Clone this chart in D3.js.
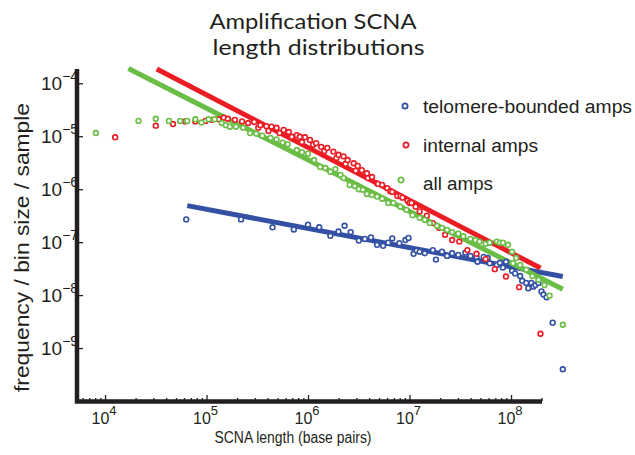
<!DOCTYPE html>
<html><head><meta charset="utf-8">
<script src="https://cdn.jsdelivr.net/npm/d3@7"></script>
<style>body{margin:0;background:#fff}svg{display:block}</style>
</head><body>
<svg id="c" width="635" height="455"></svg>
<script>
// ---- data (log10 of SCNA length, log10 of frequency / bin size / sample) ----
const seriesNames = ["telomere-bounded amps", "internal amps", "all amps"];
const titleLines = ["Amplification SCNA", "length distributions"];
const xTickValues = [1e4, 1e5, 1e6, 1e7, 1e8];
const xTickExps = ["4", "5", "6", "7", "8"];
const yTickValues = [1e-4, 1e-5, 1e-6, 1e-7, 1e-8, 1e-9];
const yTickExps = ["\u22124", "\u22125", "\u22126", "\u22127", "\u22128", "\u22129"];

const bluePts = [[4.80,-6.57],[5.34,-6.57],[5.65,-6.72],[5.86,-6.76],[6.00,-6.67],[6.11,-6.72],[6.22,-6.88],
 [6.30,-6.80],[6.36,-6.69],[6.42,-6.81],[6.50,-6.97],[6.56,-6.94],[6.62,-6.91],[6.68,-7.05],[6.74,-7.07],
 [6.79,-7.01],[6.83,-6.93],[6.90,-7.02],[6.96,-6.96],[6.99,-6.92],[7.04,-7.22],[7.07,-7.16],[7.10,-7.18],
 [7.15,-7.21],[7.23,-7.15],[7.26,-7.33],[7.32,-7.18],[7.37,-7.26],[7.42,-7.21],[7.48,-7.24],[7.55,-7.20],
 [7.60,-7.26],[7.66,-7.28],[7.67,-7.37],[7.73,-7.28],[7.77,-7.30],[7.79,-7.40],[7.86,-7.43],[7.89,-7.39],
 [7.92,-7.48],[7.95,-7.37],[8.01,-7.54],[8.04,-7.59],[8.09,-7.64],[8.11,-7.73],[8.15,-7.77],[8.17,-7.87],
 [8.20,-7.77],[8.22,-7.84],[8.24,-7.81],[8.27,-7.77],[8.30,-7.93],[8.32,-7.99],[8.35,-8.04],[8.41,-8.52],[8.51,-9.40]];

const redPts = [[4.10,-5.02],[4.50,-4.80],[4.67,-4.77],[4.79,-4.72],[4.89,-4.72],[4.99,-4.71],[5.05,-4.69],
 [5.12,-4.68],[5.17,-4.65],[5.21,-4.67],[5.28,-4.69],[5.35,-4.72],[5.41,-4.75],[5.47,-4.73],[5.51,-4.84],
 [5.53,-4.79],[5.59,-4.81],[5.61,-4.90],[5.64,-4.82],[5.69,-4.84],[5.72,-4.94],[5.76,-4.88],[5.81,-4.92],
 [5.84,-5.01],[5.89,-4.98],[5.92,-5.01],[5.94,-5.11],[5.97,-5.02],[6.02,-5.07],[6.05,-5.16],[6.08,-5.13],
 [6.13,-5.20],[6.16,-5.28],[6.19,-5.22],[6.25,-5.29],[6.28,-5.41],[6.30,-5.35],[6.35,-5.38],[6.37,-5.52],
 [6.39,-5.45],[6.45,-5.51],[6.47,-5.65],[6.49,-5.56],[6.53,-5.64],[6.58,-5.70],[6.59,-5.79],[6.63,-5.77],
 [6.68,-5.89],[6.69,-5.90],[6.73,-5.92],[6.78,-5.98],[6.81,-6.04],[6.83,-6.05],[6.88,-6.13],[6.91,-6.13],
 [6.93,-6.16],[6.98,-6.22],[7.00,-6.26],[7.02,-6.26],[7.06,-6.33],[7.10,-6.42],[7.17,-6.50],[7.23,-6.64],
 [7.29,-6.73],[7.35,-6.86],[7.42,-6.96],[7.49,-6.99],[7.57,-7.15],[7.66,-7.22],[7.75,-7.32],[7.84,-7.51],
 [7.95,-7.65],[8.08,-7.85],[8.29,-8.73]];

const greenPts = [[3.91,-4.94],[4.33,-4.71],[4.50,-4.67],[4.63,-4.71],[4.74,-4.71],[4.81,-4.71],[4.89,-4.68],
 [4.95,-4.74],[5.02,-4.68],[5.08,-4.68],[5.15,-4.75],[5.19,-4.79],[5.23,-4.82],[5.29,-4.82],[5.36,-4.84],
 [5.43,-4.94],[5.49,-4.95],[5.55,-4.99],[5.63,-5.03],[5.69,-5.06],[5.75,-5.12],[5.80,-5.15],[5.89,-5.26],
 [5.94,-5.30],[6.00,-5.33],[6.06,-5.45],[6.12,-5.58],[6.17,-5.60],[6.22,-5.67],[6.27,-5.62],[6.32,-5.73],
 [6.35,-5.79],[6.41,-5.92],[6.46,-5.94],[6.50,-6.00],[6.54,-6.01],[6.58,-6.09],[6.63,-6.11],[6.68,-6.14],
 [6.73,-6.18],[6.79,-6.26],[6.84,-6.26],[6.91,-6.33],[6.97,-6.39],[7.03,-6.49],[7.10,-6.54],[7.15,-6.58],
 [7.20,-6.64],[7.27,-6.69],[7.32,-6.73],[7.37,-6.77],[7.42,-6.81],[7.48,-6.84],[7.53,-6.89],[7.60,-6.94],
 [7.65,-6.96],[7.69,-6.99],[7.75,-7.03],[7.79,-7.01],[7.86,-6.99],[7.89,-7.01],[7.92,-7.01],[7.97,-7.05],
 [8.01,-7.18],[8.02,-7.40],[8.05,-7.30],[8.09,-7.43],[8.15,-7.52],[8.21,-7.64],[8.27,-7.71],[8.33,-7.81],
 [8.38,-8.01],[8.51,-8.56]];

// power-law fits: endpoints [log10 x, log10 y]
const blueFit = [[4.81,-6.31],[8.51,-7.65]];
const redFit = [[4.51,-3.73],[8.29,-7.49]];
const greenFit = [[4.23,-3.72],[8.51,-7.89]];

const colors = {blue:"#3450a4", red:"#ec1c24", green:"#6abd45"};
const ink = "#231f20";

// ---- scales ----
const svg = d3.select("#c");
const x = d3.scaleLog().domain([Math.pow(10,3.724), Math.pow(10,8.305)]).range([77, 542]);
const y = d3.scaleLog().domain([1e-10, Math.pow(10,-3.73)]).range([401, 69]);
const P = d => [x(Math.pow(10,d[0])), y(Math.pow(10,d[1]))];

// ---- title (one text element, two lines) ----
const title = svg.append("text").attr("fill", ink)
  .style("font-family","Lato, 'Open Sans', sans-serif").style("font-size","22px").attr("text-anchor","middle");
title.append("tspan").attr("x",313).attr("y",28.5)
  .attr("textLength",207).attr("lengthAdjust","spacingAndGlyphs").text(titleLines[0]);
title.append("tspan").attr("x",318.5).attr("y",54.5)
  .attr("textLength",212).attr("lengthAdjust","spacingAndGlyphs").text(titleLines[1]);

// ---- axes ----
const font = "'Liberation Sans', Arial, sans-serif";
const minor = [];
for (let e = 3; e <= 8; e++) for (let m = 2; m <= 9; m++) { const v = m*Math.pow(10,e); if (v > x.domain()[0] && v < x.domain()[1]) minor.push(v); }

const gx = svg.append("g").attr("transform","translate(0,401)");
gx.call(d3.axisTop(x).tickValues(minor).tickSize(3).tickFormat(""));
gx.call(g => g.append("g").call(d3.axisTop(x).tickValues(xTickValues).tickSize(6).tickFormat("")));
gx.selectAll(".domain").remove();
gx.selectAll("line").attr("stroke", ink).attr("stroke-width",1.3);

const gy = svg.append("g").attr("transform","translate(77,0)");
gy.call(d3.axisRight(y).tickValues(yTickValues).tickSize(6).tickFormat(""));
gy.selectAll(".domain").remove();
gy.selectAll("line").attr("stroke", ink).attr("stroke-width",1.3);

// axis lines
svg.append("path").attr("d", `M77,69V401.5H542`).attr("fill","none").attr("stroke", ink).attr("stroke-width",4.5);

// x tick labels
xTickValues.forEach((v,i) => {
  const t = svg.append("text").attr("x", x(v) - 1).attr("y", 423.5).attr("text-anchor","middle")
    .attr("fill", ink).style("font-family", font).style("font-size","16px");
  t.append("tspan").text("10");
  t.append("tspan").attr("dy",-9).style("font-size","13px").text(xTickExps[i]);
});
// y tick labels
yTickValues.forEach((v,i) => {
  const t = svg.append("text").attr("x", 41).attr("y", y(v) + 7).attr("fill", ink)
    .style("font-family", font).style("font-size","19px");
  t.append("tspan").text("10");
  t.append("tspan").attr("dy",-9).style("font-size","14px").text(yTickExps[i]);
});

// axis titles
svg.append("text").attr("x",293).attr("y",442.5).attr("text-anchor","middle").attr("fill",ink)
  .style("font-family",font).style("font-size","16px").attr("textLength",157).attr("lengthAdjust","spacingAndGlyphs")
  .text("SCNA length (base pairs)");
svg.append("text").attr("transform","translate(28.5,247.5) rotate(-90)").attr("text-anchor","middle").attr("fill",ink)
  .style("font-family",font).style("font-size","20px").attr("textLength",289).attr("lengthAdjust","spacingAndGlyphs")
  .text("frequency / bin size / sample");

// ---- fit lines ----
const line = d3.line().x(d => P(d)[0]).y(d => P(d)[1]);
[[blueFit, colors.blue],[greenFit, colors.green],[redFit, colors.red]].forEach(([f,c]) => {
  svg.append("path").attr("d", line(f)).attr("fill","none").attr("stroke", c).attr("stroke-width",5);
});

// ---- points ----
[[bluePts, colors.blue],[redPts, colors.red],[greenPts, colors.green]].forEach(([pts,c]) => {
  svg.append("g").selectAll("circle").data(pts).join("circle")
    .attr("cx", d => P(d)[0]).attr("cy", d => P(d)[1]).attr("r", 2.4)
    .attr("fill","#fff").attr("stroke", c).attr("stroke-width",1.6);
});

// ---- legend ----
const legendPos = [[405,106,113],[406,145,151.5],[401,180,189.5]];
const legendLen = [209,115,70];
const legendCol = [colors.blue, colors.red, colors.green];
seriesNames.forEach((n,i) => {
  const [cx,cy,ty] = legendPos[i];
  svg.append("circle").attr("cx",cx).attr("cy",cy).attr("r",2.6).attr("fill","#fff")
    .attr("stroke",legendCol[i]).attr("stroke-width",1.8);
  svg.append("text").attr("x",423).attr("y",ty).attr("fill",ink).style("font-family",font).style("font-size","18px")
    .attr("textLength",legendLen[i]).attr("lengthAdjust","spacingAndGlyphs").text(n);
});
</script>
</body></html>
